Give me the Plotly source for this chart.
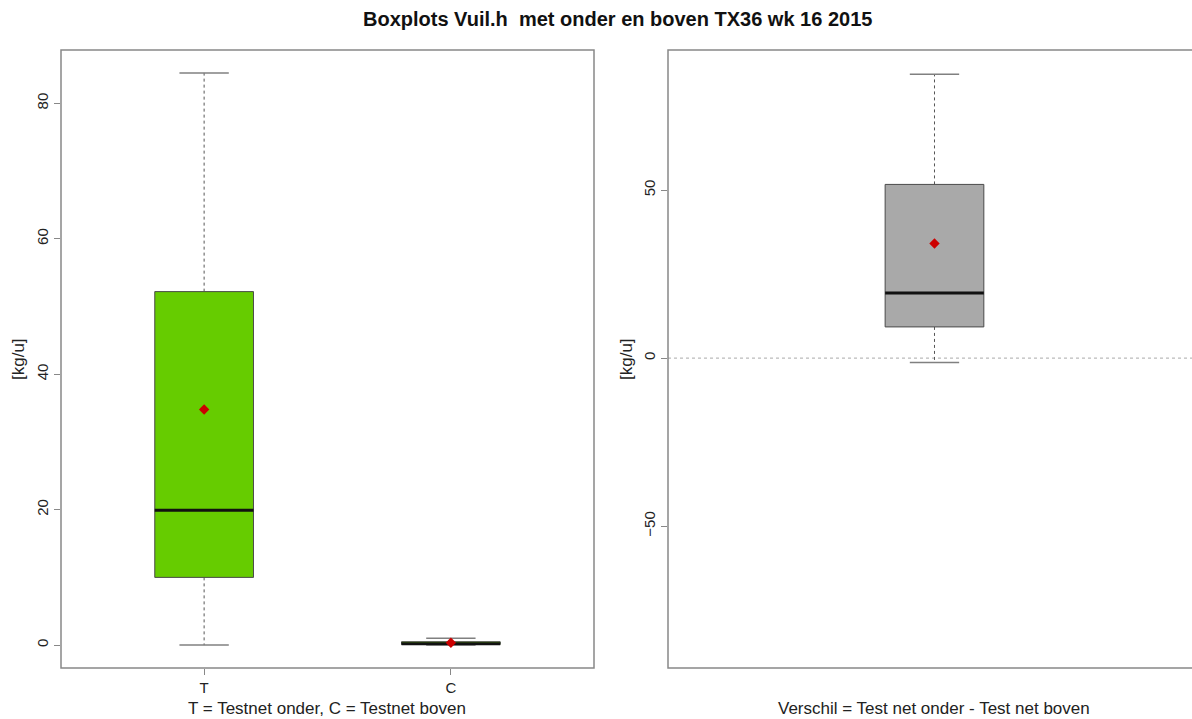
import plotly.graph_objects as go

W, H = 1192, 719

title = "Boxplots Vuil.h  met onder en boven TX36 wk 16 2015"
y_title = "[kg/u]"
x_title_left = "T = Testnet onder, C = Testnet boven"
x_title_right = "Verschil = Test net onder - Test net boven"

# Per-group summary statistics (left panel)
groups = ["T", "C"]
g_low = [0.0, 0.0]
g_q1 = [10.0, 0.1]
g_med = [19.9, 0.2]
g_q3 = [52.2, 0.5]
g_high = [84.5, 1.0]
g_mean = [34.8, 0.35]

# Difference summary statistics (right panel)
d_low = [-1.3]
d_q1 = [9.3]
d_med = [19.4]
d_q3 = [51.7]
d_high = [84.5]
d_mean = [34.1]

left_ticks = [0, 20, 40, 60, 80]
right_ticks = [-50, 0, 50]

GREEN = "#66CC00"
GREY = "#A9A9A9"
FONT = "Liberation Sans, Arial, sans-serif"


def px_x(p):
    return p / W


def px_y(p):
    return 1 - p / H


fig = go.Figure()


def add_box(x, low, q1, med, q3, high, mean, fill, width, xa, ya):
    h = width / 2
    s = width / 4
    # whiskers (dashed)
    fig.add_trace(go.Scatter(
        x=[x, x, None, x, x], y=[q3, high, None, q1, low], mode="lines",
        line=dict(color="#555555", width=1, dash="3px,3px"),
        xaxis=xa, yaxis=ya, hoverinfo="skip", showlegend=False))
    # staples
    fig.add_trace(go.Scatter(
        x=[x - s, x + s, None, x - s, x + s], y=[high, high, None, low, low],
        mode="lines", line=dict(color="#808080", width=1.5),
        xaxis=xa, yaxis=ya, hoverinfo="skip", showlegend=False))
    # box
    fig.add_trace(go.Scatter(
        x=[x - h, x + h, x + h, x - h, x - h], y=[q1, q1, q3, q3, q1],
        mode="lines", fill="toself", fillcolor=fill,
        line=dict(color="#4a4a4a", width=1),
        xaxis=xa, yaxis=ya, hoverinfo="skip", showlegend=False))
    # median
    fig.add_trace(go.Scatter(
        x=[x - h, x + h], y=[med, med], mode="lines",
        line=dict(color="#111111", width=3),
        xaxis=xa, yaxis=ya, hoverinfo="skip", showlegend=False))
    # mean
    fig.add_trace(go.Scatter(
        x=[x], y=[mean], mode="markers",
        marker=dict(symbol="diamond", size=8, color="#CC0000"),
        xaxis=xa, yaxis=ya, hoverinfo="skip", showlegend=False))


# reference line at zero in the difference panel
r_xrange = [0.46, 0.46 + (W - 668) / 493.5]
fig.add_trace(go.Scatter(
    x=r_xrange, y=[0, 0], mode="lines",
    line=dict(color="#BBBBBB", width=1.2, dash="dot"),
    xaxis="x2", yaxis="y2", hoverinfo="skip", showlegend=False))

for i, g in enumerate(groups):
    add_box(i + 1, g_low[i], g_q1[i], g_med[i], g_q3[i], g_high[i], g_mean[i],
            GREEN, 0.4, "x", "y")

add_box(1, d_low[0], d_q1[0], d_med[0], d_q3[0], d_high[0], d_mean[0],
        GREY, 0.2, "x2", "y2")

ydom = [px_y(668), px_y(50)]
axis_common = dict(showgrid=False, zeroline=False, showline=False,
                   ticks="outside", ticklen=6, tickcolor="#888888", tickwidth=1,
                   tickfont=dict(family=FONT, size=15, color="#222222"))

fig.update_layout(
    width=W, height=H,
    margin=dict(l=0, r=0, t=0, b=0),
    paper_bgcolor="white", plot_bgcolor="white",
    xaxis=dict(domain=[px_x(61), px_x(594)], range=[0.42, 2.58],
               tickvals=[1, 2], ticktext=groups, anchor="y", **axis_common),
    yaxis=dict(domain=ydom, range=[-3.38, 87.88], tickvals=left_ticks,
               tickangle=-90, anchor="x", **axis_common),
    xaxis2=dict(domain=[px_x(668), 1.0], range=r_xrange, showticklabels=False,
                anchor="y2", showgrid=False, zeroline=False, showline=False, ticks=""),
    yaxis2=dict(domain=ydom, range=[-92.2, 91.7], tickvals=right_ticks,
                tickangle=-90, anchor="x2", **axis_common),
    shapes=[
        dict(type="rect", xref="paper", yref="paper",
             x0=px_x(61), x1=px_x(594), y0=ydom[0], y1=ydom[1],
             line=dict(color="#888888", width=1.5)),
        dict(type="rect", xref="paper", yref="paper",
             x0=px_x(668), x1=px_x(1201), y0=ydom[0], y1=ydom[1],
             line=dict(color="#888888", width=1.5)),
    ],
    annotations=[
        dict(text="<b>" + title + "</b>", x=px_x(618), y=px_y(19), xref="paper", yref="paper",
             showarrow=False, font=dict(family=FONT, size=20, color="#111111"),
             xanchor="center", yanchor="middle"),
        dict(text=x_title_left, x=px_x(327), y=px_y(708), xref="paper", yref="paper",
             showarrow=False, font=dict(family=FONT, size=17, color="#222222"),
             xanchor="center", yanchor="middle"),
        dict(text=x_title_right, x=px_x(934), y=px_y(708), xref="paper", yref="paper",
             showarrow=False, font=dict(family=FONT, size=17, color="#222222"),
             xanchor="center", yanchor="middle"),
        dict(text=y_title, x=px_x(18), y=px_y(359), xref="paper", yref="paper",
             showarrow=False, textangle=-90, font=dict(family=FONT, size=17, color="#222222"),
             xanchor="center", yanchor="middle"),
        dict(text=y_title, x=px_x(626), y=px_y(359), xref="paper", yref="paper",
             showarrow=False, textangle=-90, font=dict(family=FONT, size=17, color="#222222"),
             xanchor="center", yanchor="middle"),
    ],
)

fig.write_html("out.html")
